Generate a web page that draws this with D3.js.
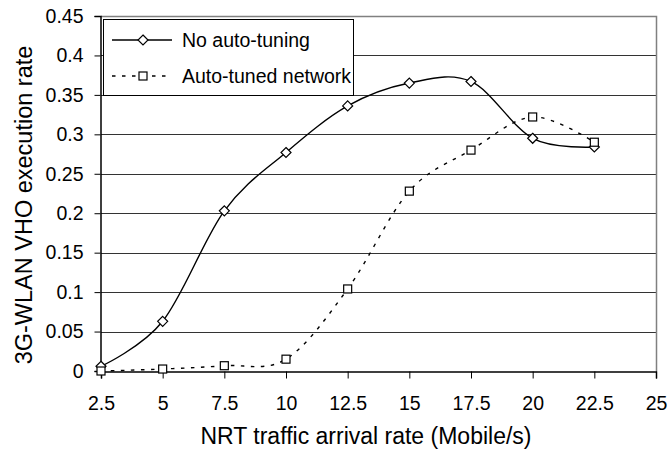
<!DOCTYPE html>
<html>
<head>
<meta charset="utf-8">
<script src="https://cdn.jsdelivr.net/npm/d3@7/dist/d3.min.js"></script>
<style>
  html, body { margin: 0; padding: 0; background: #fff; }
  svg { display: block; font-family: "Liberation Sans", Arial, sans-serif; }
</style>
</head>
<body>
<svg id="chart" width="670" height="450"></svg>
<script>
// ---- data ----
const xValues = [2.5, 5, 7.5, 10, 12.5, 15, 17.5, 20, 22.5];
const noAutoTuning = [0.006, 0.063, 0.203, 0.277, 0.336, 0.365, 0.367, 0.295, 0.284];
const autoTuned = [0.0, 0.0025, 0.0067, 0.015, 0.104, 0.228, 0.280, 0.322, 0.290];
const xTicks = [2.5, 5, 7.5, 10, 12.5, 15, 17.5, 20, 22.5, 25];
const yTicks = [0, 0.05, 0.1, 0.15, 0.2, 0.25, 0.3, 0.35, 0.4, 0.45];
const seriesNames = ["No auto-tuning", "Auto-tuned network"];
const xTitle = "NRT traffic arrival rate (Mobile/s)";
const yTitle = "3G-WLAN VHO execution rate";

const svg = d3.select("#chart");
const pLeft = 101, pRight = 656, pTop = 16, pBottom = 371;

const x = d3.scaleLinear().domain([2.5, 25]).range([pLeft, pRight]);
const y = d3.scaleLinear().domain([0, 0.45]).range([pBottom, pTop]);

// gridlines
svg.append("g").selectAll("line")
  .data(yTicks.filter(d => d > 0 && d < 0.45))
  .join("line")
  .attr("x1", pLeft).attr("x2", pRight)
  .attr("y1", d => Math.round(y(d)) + 0.5).attr("y2", d => Math.round(y(d)) + 0.5)
  .attr("stroke", "#333").attr("stroke-width", 1);

// plot border top/right (gray)
svg.append("path")
  .attr("d", `M${pLeft},${pTop + 0.5}H${pRight + 0.5}V${pBottom}`)
  .attr("fill", "none").attr("stroke", "#808080").attr("stroke-width", 1.5);

// axes
const yAxis = d3.axisLeft(y).tickValues(yTicks).tickSize(6).tickPadding(11)
  .tickFormat(d => String(+d.toFixed(2)));
const gy = svg.append("g").attr("transform", `translate(${pLeft - 0.5},0)`).call(yAxis);
gy.select(".domain").attr("stroke", "#000").attr("stroke-width", 1.5);
gy.selectAll(".tick line").attr("stroke", "#000");
gy.selectAll(".tick text").attr("font-size", "19.5px").attr("fill", "#000")
  .attr("font-family", "Liberation Sans, Arial, sans-serif");

const xAxis = d3.axisBottom(x).tickValues(xTicks).tickSize(7).tickPadding(18)
  .tickFormat(d => String(d));
const gx = svg.append("g").attr("transform", `translate(0,${pBottom + 0.5})`).call(xAxis);
gx.select(".domain").attr("stroke", "#000").attr("stroke-width", 1.5);
gx.selectAll(".tick line").attr("stroke", "#000");
gx.selectAll(".tick text").attr("font-size", "19.5px").attr("fill", "#000")
  .attr("font-family", "Liberation Sans, Arial, sans-serif");

// lines
const line = d3.line().x((d, i) => x(xValues[i])).y(d => y(d)).curve(d3.curveCardinal.tension(0));

svg.append("path").datum(noAutoTuning)
  .attr("d", line).attr("fill", "none").attr("stroke", "#000").attr("stroke-width", 1.4);
svg.append("path").datum(autoTuned)
  .attr("d", line).attr("fill", "none").attr("stroke", "#000").attr("stroke-width", 1.4)
  .attr("stroke-dasharray", "3.5,6.5");

// markers
function diamond(cx, cy, r) {
  return `M${cx},${cy - r}L${cx + r},${cy}L${cx},${cy + r}L${cx - r},${cy}Z`;
}
svg.append("g").selectAll("path")
  .data(noAutoTuning).join("path")
  .attr("d", (d, i) => diamond(x(xValues[i]), y(d), 5))
  .attr("fill", "#fff").attr("stroke", "#000").attr("stroke-width", 1.2);

svg.append("g").selectAll("rect")
  .data(autoTuned).join("rect")
  .attr("x", (d, i) => x(xValues[i]) - 4).attr("y", d => y(d) - 4)
  .attr("width", 8).attr("height", 8)
  .attr("fill", "#fff").attr("stroke", "#000").attr("stroke-width", 1.2);

// legend
const lg = svg.append("g");
lg.append("rect").attr("x", 103.5).attr("y", 19.5).attr("width", 250).attr("height", 76)
  .attr("fill", "#fff").attr("stroke", "#000").attr("stroke-width", 1);
const legendRows = [40, 76];
seriesNames.forEach((name, i) => {
  const ly = legendRows[i];
  lg.append("line").attr("x1", 112).attr("x2", 172).attr("y1", ly).attr("y2", ly)
    .attr("stroke", "#000").attr("stroke-width", 1.4)
    .attr("stroke-dasharray", i === 1 ? "3.5,6.5" : null);
  if (i === 0) {
    lg.append("path").attr("d", diamond(143, ly, 5))
      .attr("fill", "#fff").attr("stroke", "#000").attr("stroke-width", 1.2);
  } else {
    lg.append("rect").attr("x", 139).attr("y", ly - 4).attr("width", 8).attr("height", 8)
      .attr("fill", "#fff").attr("stroke", "#000").attr("stroke-width", 1.2);
  }
  lg.append("text").attr("x", 182).attr("y", ly + 7).attr("font-size", "19.5px")
    .attr("fill", "#000").text(name);
});

// titles
svg.append("text").attr("x", 366).attr("y", 444).attr("text-anchor", "middle")
  .attr("font-size", "23px").attr("fill", "#000").text(xTitle);
svg.append("text").attr("transform", "translate(32,205) rotate(-90)")
  .attr("text-anchor", "middle").attr("font-size", "23.5px").attr("fill", "#000").text(yTitle);
</script>
</body>
</html>
